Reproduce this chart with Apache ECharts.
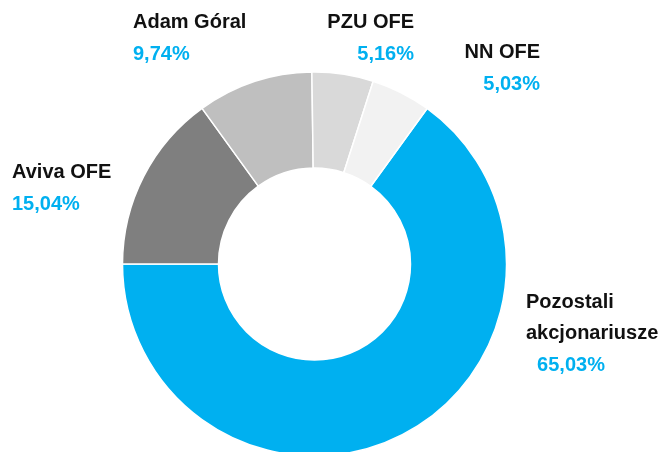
<!DOCTYPE html>
<html><head><meta charset="utf-8">
<script src="https://cdn.jsdelivr.net/npm/echarts@6/dist/echarts.min.js"></script>
<style>html,body{margin:0;padding:0;background:#fff}#c{width:665px;height:452px}</style>
</head><body><div id="c"></div>
<script>
const names = ['Pozostali\nakcjonariusze', 'Aviva OFE', 'Adam Góral', 'PZU OFE', 'NN OFE'];
const values = [65.03, 15.04, 9.74, 5.16, 5.03];
const colors = ['#00B0F0', '#7F7F7F', '#BFBFBF', '#D9D9D9', '#F2F2F2'];
// label anchor layout (x, y, align) per slice
const labelPos = [
  {x: 526, y: 287, align: 'left', pad: '  '},
  {x: 12, y: 157, align: 'left', pad: ''},
  {x: 133, y: 7, align: 'left', pad: ''},
  {x: 414, y: 7, align: 'right', pad: ''},
  {x: 540, y: 37, align: 'right', pad: ''}
];
const chart = echarts.init(document.getElementById('c'));
const fam = '"Liberation Sans", Arial, sans-serif';
chart.setOption({
  animation: false,
  series: [{
    type: 'pie',
    center: [314.5, 264],
    radius: [96, 192],
    startAngle: 54.1,
    clockwise: true,
    avoidLabelOverlap: false,
    itemStyle: {borderColor: '#fff', borderWidth: 1.5},
    labelLine: {show: false},
    label: {
      show: true,
      position: 'outside',
      formatter: function (p) {
        const nm = p.name.split('\n').map(s => '{n|' + s + '}').join('\n');
        const pct = labelPos[p.dataIndex].pad + p.value.toFixed(2).replace('.', ',') + '%';
        return nm + '\n{v|' + pct + '}';
      },
      rich: {
        n: {fontFamily: fam, fontWeight: 'bold', fontSize: 20, color: '#111', lineHeight: 31},
        v: {fontFamily: fam, fontWeight: 'bold', fontSize: 20, color: '#00B0F0', lineHeight: 33}
      }
    },
    labelLayout: function (params) {
      const lp = labelPos[params.dataIndex];
      return {x: lp.x, y: lp.y, align: lp.align, verticalAlign: 'top'};
    },
    data: names.map((n, i) => ({name: n, value: values[i], itemStyle: {color: colors[i]}, label: {align: labelPos[i].align}}))
  }]
});
</script></body></html>
